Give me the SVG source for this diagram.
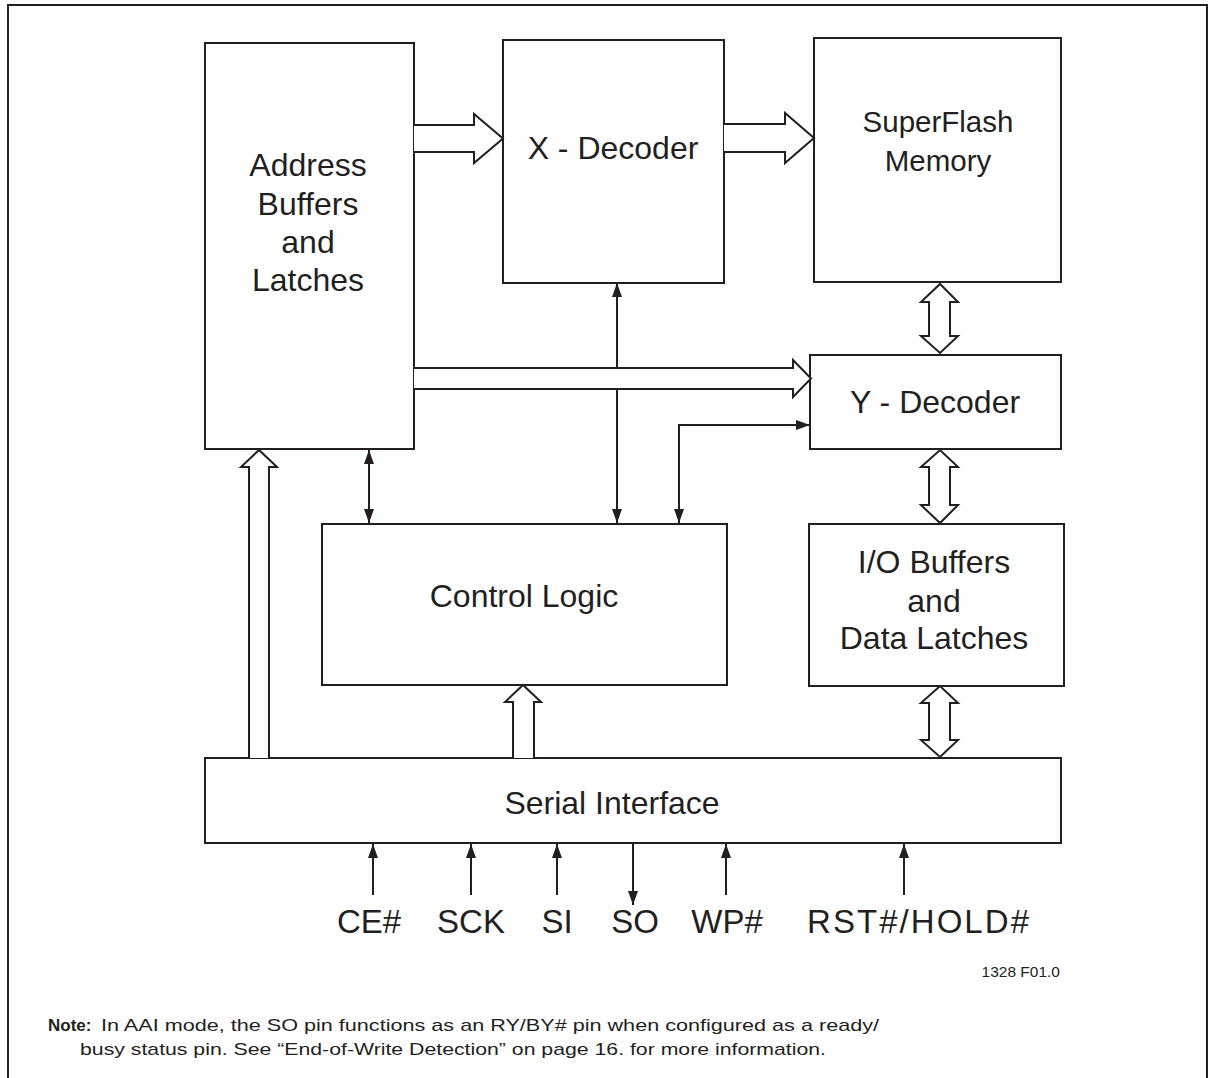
<svg xmlns="http://www.w3.org/2000/svg" width="1213" height="1078" viewBox="0 0 1213 1078">
<style>
.box{fill:#fff;stroke:#231f20;stroke-width:2}
.wide{fill:#fff;stroke:#231f20;stroke-width:2;stroke-linejoin:miter}
.thin{fill:none;stroke:#231f20;stroke-width:2}
.lbl{font-family:"Liberation Sans",Arial,sans-serif;font-size:32px;fill:#231f20;text-anchor:middle}
.pin{font-family:"Liberation Sans",Arial,sans-serif;font-size:33px;fill:#231f20;text-anchor:middle}
.note{font-family:"Liberation Sans",Arial,sans-serif;font-size:17px;fill:#231f20}
</style>
<defs>
<marker id="ah" viewBox="0 0 14 10" refX="14" refY="5" markerWidth="14" markerHeight="10" markerUnits="userSpaceOnUse" orient="auto-start-reverse">
<path d="M0,0 L14,5 L0,10 z" fill="#231f20"/>
</marker>
</defs>
<rect width="1213" height="1078" fill="#fff"/>
<path d="M8,1078 V5 H1207 V1078" fill="none" stroke="#231f20" stroke-width="2"/>

<g id="address-buffers">
<rect class="box" x="205" y="43" width="209" height="406"/>
<text class="lbl" x="308" y="176">Address</text>
<text class="lbl" x="308" y="215">Buffers</text>
<text class="lbl" x="308" y="253">and</text>
<text class="lbl" x="308" y="291">Latches</text>
</g>
<g id="x-decoder">
<rect class="box" x="503" y="40" width="221" height="243"/>
<text class="lbl" x="613" y="159">X - Decoder</text>
</g>
<g id="superflash">
<rect class="box" x="814" y="38" width="247" height="244"/>
<text class="lbl" x="938" y="132" style="font-size:29.5px">SuperFlash</text>
<text class="lbl" x="938" y="171" style="font-size:29.5px">Memory</text>
</g>
<g id="y-decoder">
<rect class="box" x="810" y="355" width="251" height="94"/>
<text class="lbl" x="935" y="413">Y - Decoder</text>
</g>
<g id="control-logic">
<rect class="box" x="322" y="524" width="405" height="161"/>
<text class="lbl" x="524" y="607">Control Logic</text>
</g>
<g id="io-buffers">
<rect class="box" x="809" y="524" width="255" height="162"/>
<text class="lbl" x="934" y="573">I/O Buffers</text>
<text class="lbl" x="934" y="612">and</text>
<text class="lbl" x="934" y="649">Data Latches</text>
</g>
<g id="serial-interface">
<rect class="box" x="205" y="758" width="856" height="85"/>
<text class="lbl" x="612" y="814">Serial Interface</text>
</g>

<g id="connectors">
<line class="thin" x1="617" y1="283" x2="617" y2="523" marker-start="url(#ah)" marker-end="url(#ah)"/>
<path class="thin" d="M679,523 V425 H810" marker-start="url(#ah)" marker-end="url(#ah)"/>
<line class="thin" x1="369" y1="450" x2="369" y2="523" marker-start="url(#ah)" marker-end="url(#ah)"/>
<polyline class="wide" points="414,125 474,125 474,114 503,138.5 474,163 474,152 414,152"/>
<polyline class="wide" points="724,124 785,124 785,113 814,138 785,163 785,152 724,152"/>
<polyline class="wide" points="414,368 793,368 793,360 811,378.5 793,397 793,389 414,389"/>
<polyline class="wide" points="249,758 249,467 241,467 259,450 277,467 269,467 269,758"/>
<polyline class="wide" points="513,758 513,702 505,702 523,685 541,702 534,702 534,758"/>
<polygon class="wide" points="929,302 921,302 940,284 958,302 950,302 950,336 958,336 940,353 921,336 929,336"/>
<polygon class="wide" points="929,467 921,467 940,450 958,467 950,467 950,505 958,505 940,523 921,505 929,505"/>
<polygon class="wide" points="929,703 921,703 940,686 958,703 950,703 950,740 958,740 940,757 921,740 929,740"/>
<line class="thin" x1="373" y1="895" x2="373" y2="844" marker-end="url(#ah)"/>
<line class="thin" x1="471" y1="895" x2="471" y2="844" marker-end="url(#ah)"/>
<line class="thin" x1="557" y1="895" x2="557" y2="844" marker-end="url(#ah)"/>
<line class="thin" x1="633" y1="844" x2="633" y2="905" marker-end="url(#ah)"/>
<line class="thin" x1="726" y1="895" x2="726" y2="844" marker-end="url(#ah)"/>
<line class="thin" x1="904" y1="895" x2="904" y2="844" marker-end="url(#ah)"/>
</g>

<g id="pins">
<text class="pin" x="369" y="933">CE#</text>
<text class="pin" x="471" y="933">SCK</text>
<text class="pin" x="557" y="933">SI</text>
<text class="pin" x="635" y="933">SO</text>
<text class="pin" x="727" y="933">WP#</text>
<text class="pin" x="918" y="933" textLength="222" lengthAdjust="spacing">RST#/HOLD#</text>
</g>

<text x="1060" y="977" style="font-family:'Liberation Sans',Arial,sans-serif;font-size:15.5px;fill:#231f20;text-anchor:end">1328 F01.0</text>

<g id="note">
<text class="note" x="48" y="1031"><tspan font-weight="bold">Note:</tspan></text>
<text class="note" x="101" y="1031" textLength="778" lengthAdjust="spacingAndGlyphs">In AAI mode, the SO pin functions as an RY/BY# pin when configured as a ready/</text>
<text class="note" x="80" y="1055" textLength="746" lengthAdjust="spacingAndGlyphs">busy status pin. See “End-of-Write Detection” on page 16. for more information.</text>
</g>
</svg>
